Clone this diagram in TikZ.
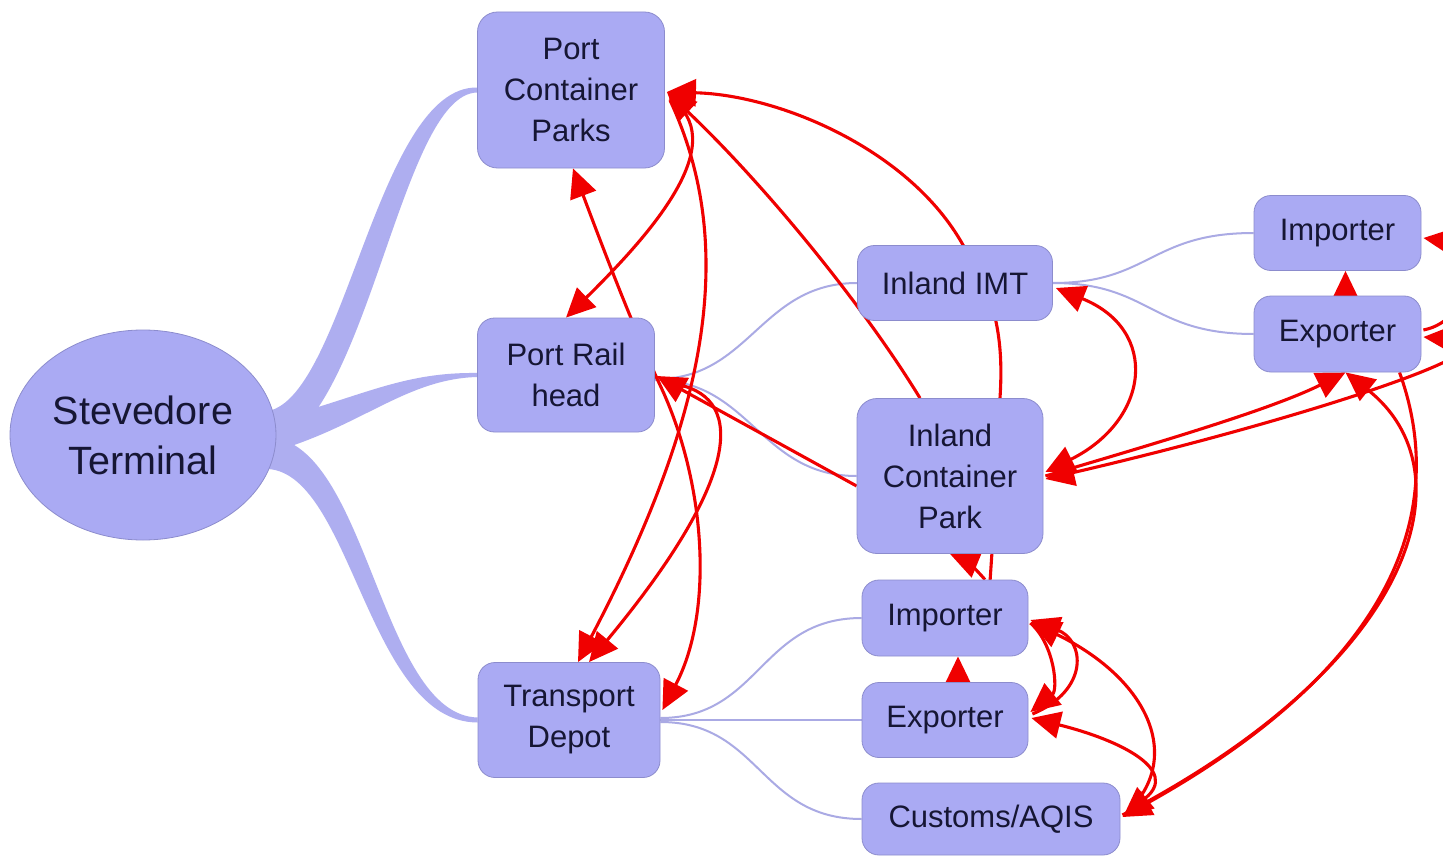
\documentclass[tikz,border=0pt]{standalone}
\usepackage{fontspec}
\setmainfont{Liberation Sans}
\usetikzlibrary{shapes.geometric,arrows.meta,calc}

\definecolor{boxfill}{RGB}{170,170,243}
\definecolor{boxline}{RGB}{140,140,205}
\definecolor{branch}{RGB}{174,174,240}
\definecolor{thin}{RGB}{170,170,228}
\definecolor{flow}{RGB}{240,0,0}
\definecolor{ink}{RGB}{22,22,52}

\pgfdeclarelayer{paper}
\pgfdeclarelayer{links}
\pgfsetlayers{paper,links,main}

\tikzset{
  topic/.style={draw=boxline, fill=boxfill, rounded corners=17pt, line width=0.8pt,
    align=center, text=ink, inner sep=0pt, font=\fontsize{31}{41}\selectfont},
  root/.style={ellipse, draw=boxline, fill=boxfill, line width=0.8pt, align=center,
    text=ink, inner sep=0pt, font=\fontsize{39.5}{50}\selectfont},
  limb/.style={fill=branch},
  twig/.style={draw=thin, line width=2pt},
  flowline/.style={draw=flow, line width=3.1pt},
  tip/.style={flowline, -{Triangle[length=29pt,width=27pt]}},
  tips/.style={flowline, {Triangle[length=29pt,width=27pt]}-{Triangle[length=29pt,width=27pt]}}
}

\begin{document}
\begin{tikzpicture}[x=1pt, y=-1pt]
\useasboundingbox (0,0) rectangle (1443,856);
\begin{pgfonlayer}{paper}
\fill[white] (0,0) rectangle (1443,856);
\end{pgfonlayer}

% ---- topics ----
\node[root, minimum width=266pt, minimum height=210pt] (st) at (143,435) {Stevedore\\Terminal};

\node[topic, rounded corners=20pt, minimum width=187pt, minimum height=156pt] (pcp) at (571,90) {Port\\Container\\Parks};
\node[topic, minimum width=177pt, minimum height=114pt] (prh) at (566,375) {Port Rail\\head};
\node[topic, minimum width=182pt, minimum height=115pt] (td) at (569,720) {Transport\\Depot};

\node[topic, minimum width=195pt, minimum height=75pt] (imt) at (955,283) {Inland IMT};
\node[topic, rounded corners=20pt, minimum width=186pt, minimum height=155pt] (icp) at (950,476) {Inland\\Container\\Park};
\node[topic, minimum width=166pt, minimum height=76pt] (imp) at (945,618) {Importer};
\node[topic, minimum width=166pt, minimum height=75pt] (exp) at (945,720) {Exporter};
\node[topic, minimum width=258pt, minimum height=72pt] (cus) at (991,819) {Customs/AQIS};

\node[topic, minimum width=167pt, minimum height=75pt] (imp2) at (1337.5,233) {Importer};
\node[topic, minimum width=167pt, minimum height=76pt] (exp2) at (1337.5,334) {Exporter};

\begin{pgfonlayer}{links}
\clip (0,0) rectangle (1443,856);

% ---- tapered main branches ----
\fill[limb] ($(st.east)+(-8,-24)$) .. controls (345,395) and (378,86) .. ($(pcp.west)+(0,-2.5)$)
  -- ($(pcp.west)+(0,2.5)$) .. controls (400,94) and (368,425) .. ($(st.east)+(-8,15)$) -- cycle;
\fill[limb] ($(st.east)+(-8,-14)$) .. controls (360,398) and (400,372) .. ($(prh.west)+(0,-2)$)
  -- ($(prh.west)+(0,2)$) .. controls (405,379) and (360,428) .. ($(st.east)+(-8,18)$) -- cycle;
\fill[limb] ($(st.east)+(-8,2)$) .. controls (368,442) and (380,715) .. ($(td.west)+(0,-2.5)$)
  -- ($(td.west)+(0,2.5)$) .. controls (368,722) and (352,475) .. ($(st.east)+(-8,34)$) -- cycle;

% ---- thin sub-branches ----
\draw[twig] ($(prh.east)+(0,4)$) .. controls (750,380) and (760,283) .. (imt.west);
\draw[twig] ($(prh.east)+(0,5)$) .. controls (750,380) and (760,476) .. (icp.west);
\draw[twig] ($(td.east)+(0,-2)$) .. controls (760,718) and (760,618) .. (imp.west);
\draw[twig] (td.east) -- (exp.west);
\draw[twig] ($(td.east)+(0,2)$) .. controls (760,722) and (760,819) .. (cus.west);
\draw[twig] (imt.east) .. controls (1150,283) and (1150,233) .. (imp2.west);
\draw[twig] (imt.east) .. controls (1150,283) and (1150,334) .. (exp2.west);

% ---- cross links ----
% into Port Container Parks
\draw[tip] ($(icp.north)+(50,0)$) .. controls (1003,350) and (1000,300) .. (963,245)
  .. controls (910,150) and (780,95) .. ($(pcp.east)+(2,2)$);
\draw[tip] ($(icp.north)+(-30,0)$) .. controls (860,300) and (760,180) .. ($(pcp.east)+(2,2)$);
\draw[tip] ($(pcp.east)+(5,8)$) .. controls (730,140) and (660,225) .. (prh.north);
\draw[tip] ($(pcp.east)+(5,10)$) .. controls (740,250) and (705,420) .. ($(td.north)+(9,0)$);
\draw[tips] ($(td.east)+(2,-10)$) .. controls (715,610) and (705,480) .. (660,385)
  .. controls (630,320) and (600,240) .. ($(pcp.south)+(2,0)$);

% Port Rail head
\draw[tip] ($(prh.east)+(25,10)$) .. controls (745,400) and (740,480) .. ($(td.north)+(20,0)$);
\draw[tip] ($(icp.west)+(0,10)$) -- ($(prh.east)+(2,1)$);

% Inland IMT / Inland Container Park
\draw[tips] ($(imt.east)+(3,5)$) .. controls (1160,330) and (1150,420) .. ($(icp.east)+(2,-4)$);
\draw[tip] ($(icp.east)+(2,0)$) .. controls (1150,445) and (1270,410) .. ($(exp2.south)+(8,0)$);
\draw[tips] ($(icp.east)+(2,3)$) .. controls (1300,420) and (1530,345) .. ($(exp2.east)+(2,3)$);
\draw[flowline] ($(icp.south)+(42,-2)$) -- ($(imp.north)+(45,2)$);
\draw[tip] ($(imp.north)+(40,0)$) .. controls (975,568) and (965,560) .. ($(icp.south)+(0,0)$);

% right-hand Importer / Exporter
\draw[tip] ($(exp2.east)+(2,-4)$) .. controls (1475,320) and (1475,245) .. ($(imp2.east)+(2,5)$);
\draw[tip] ($(exp2.north)+(8,0)$) -- ($(imp2.south)+(8,0)$);
\draw[tip] ($(exp2.south)+(62,0)$) .. controls (1435,470) and (1440,640) .. ($(cus.east)+(2,-2)$);
\draw[tip] ($(cus.east)+(2,-4)$) .. controls (1420,660) and (1470,470) .. ($(exp2.south)+(8,0)$);

% lower Importer / Exporter / Customs
\draw[tip] ($(imp.east)+(2,5)$) .. controls (1055,645) and (1058,690) .. ($(exp.east)+(2,-8)$);
\draw[tip] ($(exp.east)+(4,-6)$) .. controls (1090,690) and (1085,640) .. ($(imp.east)+(2,2)$);
\draw[tip] ($(cus.east)+(4,-4)$) .. controls (1185,760) and (1150,680) .. ($(imp.east)+(3,4)$);
\draw[tips] ($(exp.east)+(3,-2)$) .. controls (1120,740) and (1180,770) .. ($(cus.east)+(3,-3)$);
\draw[tip] ($(exp.north)+(13,0)$) -- ($(imp.south)+(13,0)$);
\end{pgfonlayer}
\end{tikzpicture}
\end{document}
